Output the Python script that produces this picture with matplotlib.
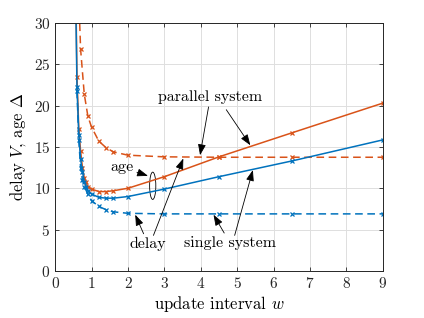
import matplotlib
matplotlib.use("Agg")
import matplotlib.pyplot as plt
from matplotlib.patches import Ellipse

# ---- data ----
w_age = [0.55, 0.6, 0.65, 0.7, 0.75, 0.8, 0.85, 0.9, 1.0, 1.2, 1.4, 1.6, 2, 3, 4.5, 6.5, 9]
par_age = [40, 23.4, 17.2, 14.5, 12.5, 11.3, 10.7, 10.2, 9.9, 9.6, 9.6, 9.7, 10.0, 11.4, 13.8, 16.7, 20.3]
sing_age = [38, 22.2, 16.5, 13.5, 12.0, 10.8, 10.2, 9.7, 9.3, 8.9, 8.8, 8.8, 9.0, 9.9, 11.4, 13.3, 15.85]

w_par_delay = [0.65, 0.7, 0.8, 0.9, 1.0, 1.2, 1.4, 1.6, 2, 3, 4.5, 6.5, 9]
par_delay = [33, 26.8, 21.4, 18.7, 17.4, 15.7, 14.9, 14.4, 14.0, 13.8, 13.75, 13.75, 13.75]

w_sing_delay = [0.6, 0.65, 0.7, 0.75, 0.8, 0.9, 1.0, 1.2, 1.4, 1.6, 2, 3, 4.5, 6.5, 9]
sing_delay = [21.8, 15.8, 12.5, 11.0, 10.2, 9.3, 8.5, 7.8, 7.4, 7.15, 6.97, 6.9, 6.9, 6.9, 6.9]

xticks = [0, 1, 2, 3, 4, 5, 6, 7, 8, 9]
yticks = [0, 5, 10, 15, 20, 25, 30]

BLUE = "#0072BD"
ORANGE = "#D95319"

plt.rcParams["font.family"] = ["cmr10", "DejaVu Serif"]
plt.rcParams["mathtext.fontset"] = "cm"
plt.rcParams["axes.formatter.use_mathtext"] = True

fig = plt.figure(figsize=(4.24, 3.18), dpi=100)
ax = fig.add_axes([0.130, 0.148, 0.773, 0.780])

mk = dict(marker="x", markersize=3.5, markeredgewidth=0.9, linewidth=1.1)
ax.plot(w_age, par_age, color=ORANGE, linestyle="-", **mk)
ax.plot(w_par_delay, par_delay, color=ORANGE, linestyle=(0, (5, 3)), **mk)
ax.plot(w_age, sing_age, color=BLUE, linestyle="-", **mk)
ax.plot(w_sing_delay, sing_delay, color=BLUE, linestyle=(0, (5, 3)), **mk)

ax.set_xlim(0, 9)
ax.set_ylim(0, 30)
ax.set_xticks(xticks)
ax.set_yticks(yticks)
ax.grid(True, color="#dedede", linewidth=0.7)
ax.set_axisbelow(True)
for s in ax.spines.values():
    s.set_color("#262626")
    s.set_linewidth(0.7)
ax.tick_params(direction="in", top=True, right=True, length=3, width=0.6,
               labelsize=11, colors="#262626")
ax.set_xlabel(r"update interval $w$", fontsize=12, labelpad=2)
ax.set_ylabel(r"delay $V$, age $\Delta$", fontsize=12, labelpad=4)

ap = dict(arrowstyle="-|>,head_length=0.55,head_width=0.2", color="black",
          lw=0.6, mutation_scale=12, shrinkA=0, shrinkB=0)
fs = 11.5
# parallel system
ax.annotate("parallel system", xy=(3.98, 14.0), xytext=(4.26, 21.0),
            ha="center", va="center", fontsize=fs, arrowprops=ap)
ax.annotate("", xy=(5.36, 15.2), xytext=(4.7, 19.5), arrowprops=ap)
# single system
ax.annotate("single system", xy=(4.35, 6.8), xytext=(4.8, 3.4),
            ha="center", va="center", fontsize=fs, arrowprops=ap)
ax.annotate("", xy=(5.43, 12.2), xytext=(4.93, 4.3), arrowprops=ap)
# delay
ax.annotate("delay", xy=(2.2, 6.8), xytext=(2.55, 3.3),
            ha="center", va="center", fontsize=fs, arrowprops=ap)
ax.annotate("", xy=(3.52, 13.6), xytext=(2.7, 4.3), arrowprops=ap)
# age
ax.annotate("age", xy=(2.55, 11.5), xytext=(1.85, 12.5),
            ha="center", va="center", fontsize=fs, arrowprops=ap)
ax.add_patch(Ellipse((2.68, 10.3), 0.17, 3.3, fill=False, color="black", lw=0.6))

fig.savefig("out.png", dpi=100)
